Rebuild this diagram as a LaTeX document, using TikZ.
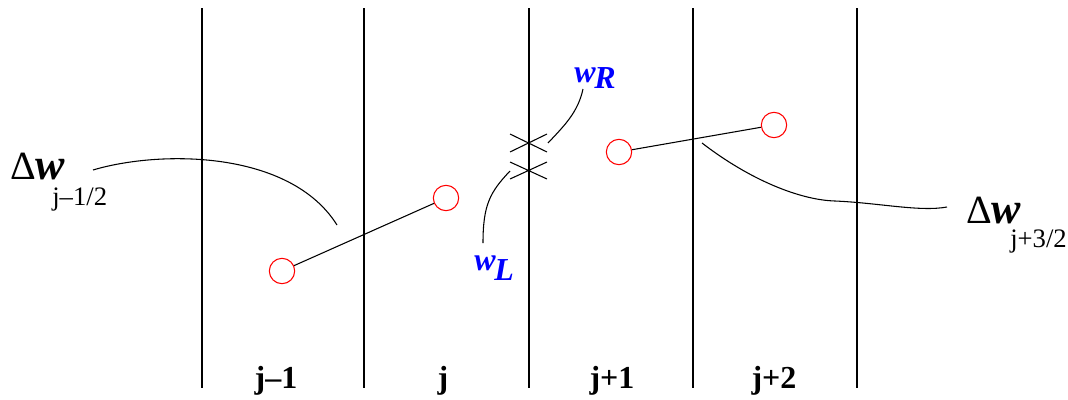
\documentclass[tikz,border=0pt]{standalone}
\usepackage{fontspec}
\setmainfont{Liberation Serif}
\begin{document}
\begin{tikzpicture}[x=0.75pt,y=-0.75pt,
  gridline/.style={line width=1.5pt,black},
  thin/.style={line width=0.8pt,black},
  cell/.style={circle,draw=red,line width=0.8pt,minimum size=19pt,inner sep=0pt},
  blab/.style={anchor=base,font=\fontsize{24}{26}\selectfont\bfseries},
  dlab/.style={anchor=base west,inner sep=0pt,font=\fontsize{30}{32}\selectfont},
  dsub/.style={anchor=base west,inner sep=0pt,font=\fontsize{20}{22}\selectfont},
  wlab/.style={anchor=base west,inner sep=0pt,text=blue,font=\fontsize{24}{26}\selectfont\bfseries\itshape}]
\useasboundingbox (0,0) rectangle (1068,400);
% grid lines
\foreach \x/\n in {202/a,364/b,529/c,693/d,857/e}{
  \coordinate (t\n) at (\x,8);
  \coordinate (b\n) at (\x,388);
  \draw[gridline] (t\n) -- (b\n);
}
% bottom labels
\node[blab] (l1) at (276,388) {j\textendash1};
\node[blab] (l2) at (443,388) {j};
\node[blab] (l3) at (612,388) {j+1};
\node[blab] (l4) at (774,388) {j+2};
% cells
\node[cell] (c1) at (282,271) {};
\node[cell] (c2) at (446,198) {};
\node[cell] (c3) at (619,152) {};
\node[cell] (c4) at (774,125) {};
\draw[thin] (c1) -- (c2);
\draw[thin] (c3) -- (c4);
% crosses at interface
\coordinate (x1a) at (510,134); \coordinate (x1b) at (547,152);
\coordinate (x1c) at (510,152); \coordinate (x1d) at (547,134);
\coordinate (x2a) at (510,162); \coordinate (x2b) at (547,179);
\coordinate (x2c) at (510,179); \coordinate (x2d) at (547,162);
\draw[thin] (x1a) -- (x1b) (x1c) -- (x1d);
\draw[thin] (x2a) -- (x2b) (x2c) -- (x2d);
% labels w_R, w_L
\node[wlab] (wR) at (574,82) {w\kern-1pt\raisebox{-5pt}{R}};
\node[wlab] (wL) at (474,270) {w\kern-1pt\raisebox{-7.5pt}{L}};
\coordinate (wRs) at (583,89);
\coordinate (wRe) at (548,143);
\coordinate (wLs) at (510,171);
\coordinate (wLe) at (483,243);
\draw[thin] (wRs) .. controls (578,112) and (565,125) .. (wRe);
\draw[thin] (wLs) .. controls (490,192) and (483,205) .. (wLe);
% delta labels
\node[dlab] (d1) at (10,179) {\char"0394\textbf{\textit{\fontsize{33}{35}\selectfont w}}};
\node[dsub] (d1s) at (52,205) {j\textendash1/2};
\node[dlab] (d2) at (966,223) {\char"0394\textbf{\textit{\fontsize{33}{35}\selectfont w}}};
\node[dsub] (d2s) at (1010,247) {j+3/2};
\coordinate (p1s) at (93,170);
\coordinate (p1e) at (337,225);
\draw[thin] (p1s) .. controls (160,150) and (290,150) .. (p1e);
\coordinate (p2s) at (702,143);
\coordinate (p2m) at (835,201);
\coordinate (p2e) at (947,207);
\draw[thin] (p2s) .. controls (750,180) and (800,200) .. (p2m) .. controls (880,203) and (920,212) .. (p2e);
\end{tikzpicture}
\end{document}
